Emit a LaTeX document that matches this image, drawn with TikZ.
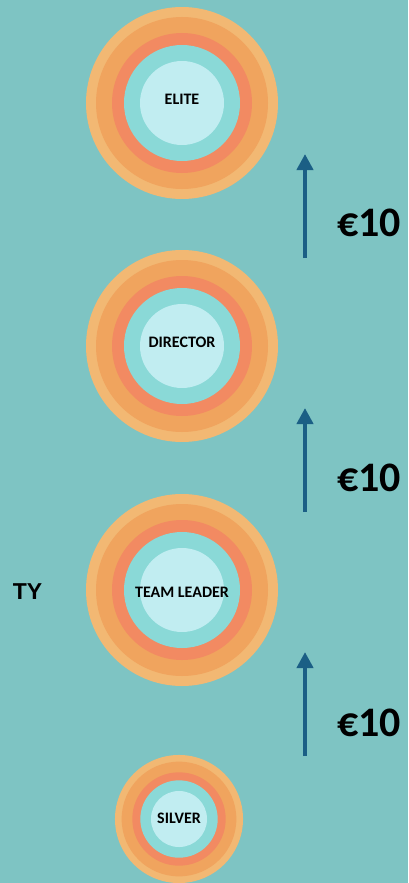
\documentclass[tikz,border=0pt]{standalone}
\usepackage{fontspec}
\setmainfont{Carlito}
\newfontfamily\tyfont{Liberation Sans}
\usetikzlibrary{arrows.meta}
\definecolor{bg}{HTML}{7EC4C3}
\definecolor{ringa}{HTML}{F2B873}
\definecolor{ringb}{HTML}{F0A45E}
\definecolor{ringc}{HTML}{F28A62}
\definecolor{ringd}{HTML}{8AD9D7}
\definecolor{ringe}{HTML}{C1EDF1}
\definecolor{arrowblue}{HTML}{1B5F85}
\tikzset{
  lbl/.style={font=\bfseries\fontsize{16}{16}\selectfont, inner sep=0pt},
  price/.style={font=\bfseries\fontsize{42}{42}\selectfont, inner sep=0pt, anchor=west},
  uparrow/.style={arrowblue, line width=4pt, line cap=butt, -{Triangle[width=16pt,length=16pt]}}
}
\begin{document}
\begin{tikzpicture}[x=1pt,y=-1pt, line join=round, >=stealth]
  \useasboundingbox[fill=bg] (0,0) rectangle (408,883);
  % rings
  \foreach \n/\cx/\cy/\ty/\s/\t in {elite/182/103/99/1/ELITE, director/182/346/342/1/DIRECTOR, leader/182/590/592/1/TEAM LEADER, silver/179/819/818/.667/SILVER}{
    \fill[ringa] (\cx,\cy) circle[radius=\s*96pt];
    \fill[ringb] (\cx,\cy) circle[radius=\s*86pt];
    \fill[ringc] (\cx,\cy) circle[radius=\s*70pt];
    \fill[ringd] (\cx,\cy) circle[radius=\s*58pt];
    \fill[ringe] (\cx,\cy) circle[radius=\s*42pt];
    \node[lbl] (\n) at (\cx,\ty) {\t};
  }
  \node[font=\tyfont\bfseries\fontsize{23}{23}\selectfont, inner sep=0pt] (ty) at (27.5,592) {TY};
  % arrows
  \foreach \i/\yb/\yt/\yp in {1/258/154/223, 2/512/408/478, 3/756/652/723}{
    \coordinate (s\i) at (305,\yb);
    \coordinate (e\i) at (305,\yt);
    \draw[uparrow] (s\i) -- (e\i);
    \node[price] (p\i) at (337,\yp) {€10};
  }
\end{tikzpicture}
\end{document}
